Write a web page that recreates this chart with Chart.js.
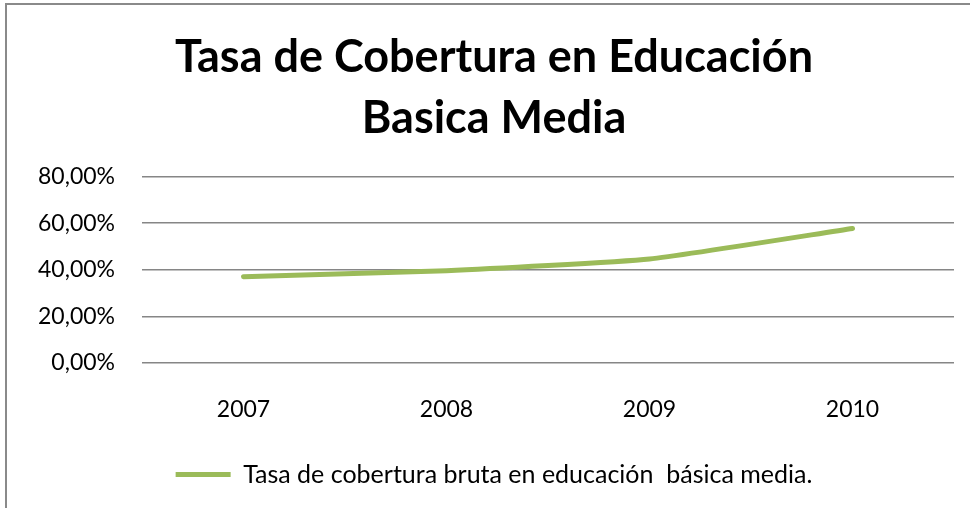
<!DOCTYPE html>
<html>
<head>
<meta charset="utf-8">
<script src="https://cdn.jsdelivr.net/npm/chart.js@4"></script>
<style>
  html, body { margin: 0; padding: 0; background: #fff; }
  #wrap { position: relative; width: 970px; height: 508px; }
</style>
</head>
<body>
<div id="wrap"><canvas id="chart" width="970" height="508"></canvas></div>
<script>
// datos
const years = ['2007', '2008', '2009', '2010'];
const coverage = [37.0, 39.6, 44.6, 57.7];
const seriesName = 'Tasa de cobertura bruta en educación  básica media.';
const titleLines = ['Tasa de Cobertura en Educación', 'Basica Media'];
const yTicks = [0, 20, 40, 60, 80];

const green = '#9BBB59';
const gridGray = '#868686';

// marco gris del grafico (solo se ve arriba y a la izquierda)
const framePlugin = {
    id: 'frame',
    afterDraw(chart) {
        const ctx = chart.ctx;
        ctx.save();
        ctx.strokeStyle = '#8a8a8a';
        ctx.lineWidth = 2;
        ctx.strokeRect(6, 4, 1200, 800);
        ctx.restore();
    }
};

new Chart(document.getElementById('chart'), {
    type: 'line',
    data: {
        labels: years,
        datasets: [{
            label: seriesName,
            data: coverage,
            borderColor: green,
            backgroundColor: green,
            borderWidth: 5,
            borderCapStyle: 'round',
            borderJoinStyle: 'round',
            pointRadius: 0,
            tension: 0.15,
            fill: false
        }]
    },
    options: {
        responsive: false,
        animation: false,
        layout: { padding: { left: 34, right: 16, top: 0, bottom: 11 } },
        scales: {
            x: {
                offset: true,
                grid: { display: false },
                border: { display: false },
                ticks: { color: '#000', padding: 25, font: { family: 'Lato', size: 23 } },
                afterFit(scale) { scale.height = 89; }
            },
            y: {
                min: 0,
                max: 80,
                afterBuildTicks(scale) { scale.ticks = yTicks.map(v => ({ value: v })); },
                grid: { color: gridGray, lineWidth: 1.5, drawTicks: false },
                border: { display: false },
                ticks: {
                    color: '#000',
                    padding: 27,
                    font: { family: 'Lato', size: 23 },
                    callback: v => v.toFixed(2).replace('.', ',') + '%'
                },
                afterFit(scale) { scale.width = 108; }
            }
        },
        plugins: {
            title: {
                display: true,
                text: titleLines,
                color: '#000',
                font: { family: 'Lato', size: 45, weight: 'bold', lineHeight: 1.35 },
                padding: { top: 27, bottom: 28 }
            },
            legend: {
                position: 'bottom',
                labels: {
                    color: '#000',
                    boxWidth: 55,
                    boxHeight: 5,
                    padding: 10,
                    font: { family: 'Lato', size: 25 },
                    generateLabels(chart) {
                        const items = Chart.defaults.plugins.legend.labels.generateLabels(chart);
                        items.forEach(it => { it.lineWidth = 0; it.fillStyle = green; });
                        return items;
                    }
                }
            },
            tooltip: { enabled: false }
        }
    },
    plugins: [framePlugin]
});
</script>
</body>
</html>
